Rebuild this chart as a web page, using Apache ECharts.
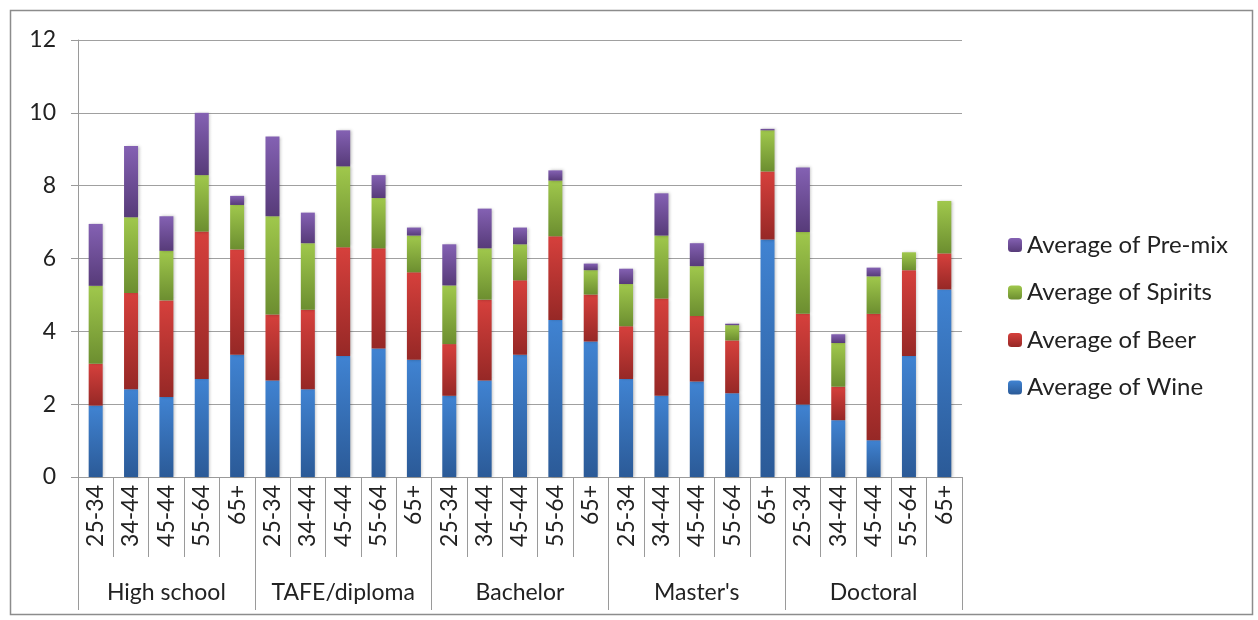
<!DOCTYPE html>
<html>
<head>
<meta charset="utf-8">
<script src="https://cdn.jsdelivr.net/npm/echarts@6/dist/echarts.min.js"></script>
<style>
  html, body { margin: 0; padding: 0; background: #fff; }
  #chart { width: 1258px; height: 620px; }
</style>
</head>
<body>
<div id="chart"></div>
<script>
// Age bands within each education level
const ageBands = [
  '25-34','34-44','45-44','55-64','65+',
  '25-34','34-44','45-44','55-64','65+',
  '25-34','34-44','45-44','55-64','65+',
  '25-34','34-44','45-44','55-64','65+',
  '25-34','34-44','45-44','55-64','65+'
];
const educationLevels = ['High school', 'TAFE/diploma', 'Bachelor', "Master's", 'Doctoral'];
const yTicks = [0, 2, 4, 6, 8, 10, 12];

// Average drinks by type
const wine = [1.96, 2.41, 2.20, 2.69, 3.36,  2.65, 2.41, 3.32, 3.53, 3.22,  2.23, 2.65, 3.36, 4.31, 3.72,  2.69, 2.23, 2.62, 2.30, 6.52,  1.99, 1.56, 1.01, 3.32, 5.15];
const beer = [1.15, 2.64, 2.65, 4.05, 2.89,  1.81, 2.18, 2.99, 2.75, 2.40,  1.42, 2.22, 2.04, 2.30, 1.29,  1.45, 2.67, 1.80, 1.45, 1.87,  2.49, 0.92, 3.47, 2.36, 0.99];
const spirits = [2.14, 2.08, 1.36, 1.55, 1.22,  2.70, 1.83, 2.22, 1.38, 1.01,  1.61, 1.41, 0.99, 1.53, 0.67,  1.16, 1.73, 1.37, 0.42, 1.13,  2.25, 1.20, 1.03, 0.49, 1.44];
const premix = [1.70, 1.96, 0.95, 1.71, 0.25,  2.19, 0.84, 0.99, 0.63, 0.22,  1.13, 1.09, 0.46, 0.28, 0.18,  0.42, 1.16, 0.63, 0.04, 0.04,  1.77, 0.24, 0.24, 0, 0];

const FONT = 'Lato, "Open Sans", sans-serif';
const FS = 23;

function grad(top, bottom) {
  return new echarts.graphic.LinearGradient(0, 0, 0, 1, [
    { offset: 0, color: top },
    { offset: 1, color: bottom }
  ]);
}

const seriesDefs = [
  { name: 'Average of Wine', data: wine, top: '#4083d2', bottom: '#2b5a97' },
  { name: 'Average of Beer', data: beer, top: '#d6403c', bottom: '#962826' },
  { name: 'Average of Spirits', data: spirits, top: '#a0c84c', bottom: '#6c8e30' },
  { name: 'Average of Pre-mix', data: premix, top: '#8461b3', bottom: '#573b79' }
];

const chart = echarts.init(document.getElementById('chart'), null, { renderer: 'canvas' });

chart.setOption({
  backgroundColor: '#ffffff',
  animation: false,
  textStyle: { fontFamily: FONT },
  graphic: [{
    type: 'rect',
    left: 8, top: 8,
    shape: { width: 1242, height: 604 },
    style: { fill: 'none', stroke: '#8c8c8c', lineWidth: 1.5 },
    silent: true
  }],
  grid: { left: 78, right: 296, top: 40, bottom: 143, containLabel: false },
  legend: {
    orient: 'vertical',
    left: 1003,
    top: 228,
    itemWidth: 14,
    itemHeight: 14,
    itemGap: 23.5,
    textStyle: { fontSize: 24, color: '#222', fontFamily: FONT },
    data: ['Average of Pre-mix', 'Average of Spirits', 'Average of Beer', 'Average of Wine']
  },
  xAxis: [
    {
      type: 'category',
      data: ageBands,
      position: 'bottom',
      axisLine: { show: true, lineStyle: { color: '#9a9a9a', width: 1 } },
      axisTick: { show: true, length: 80, interval: 0, lineStyle: { color: '#9a9a9a' } },
      axisLabel: { rotate: 90, interval: 0, fontSize: FS, color: '#222', margin: 8, fontFamily: FONT },
      splitLine: { show: false }
    },
    {
      type: 'category',
      data: educationLevels,
      position: 'bottom',
      offset: 80,
      axisLine: { show: false },
      axisTick: { show: true, length: 53, interval: 0, lineStyle: { color: '#9a9a9a' } },
      axisLabel: { interval: 0, fontSize: FS, color: '#222', margin: 24, fontFamily: FONT },
      splitLine: { show: false }
    }
  ],
  yAxis: {
    type: 'value',
    min: yTicks[0],
    max: yTicks[yTicks.length - 1],
    interval: 2,
    axisLine: { show: true, lineStyle: { color: '#9a9a9a' } },
    axisTick: { show: true, length: 7, lineStyle: { color: '#9a9a9a' } },
    axisLabel: { fontSize: FS, color: '#222', margin: 22, fontFamily: FONT },
    splitLine: { show: true, lineStyle: { color: '#a0a0a0', width: 1.2 } }
  },
  series: seriesDefs.map(s => ({
    name: s.name,
    type: 'bar',
    stack: 'total',
    xAxisIndex: 0,
    barWidth: 14,
    data: s.data,
    itemStyle: {
      color: grad(s.top, s.bottom),
      shadowBlur: 3,
      shadowColor: 'rgba(0,0,0,0.25)',
      shadowOffsetX: 1.5,
      shadowOffsetY: 0
    }
  }))
});
</script>
</body>
</html>
